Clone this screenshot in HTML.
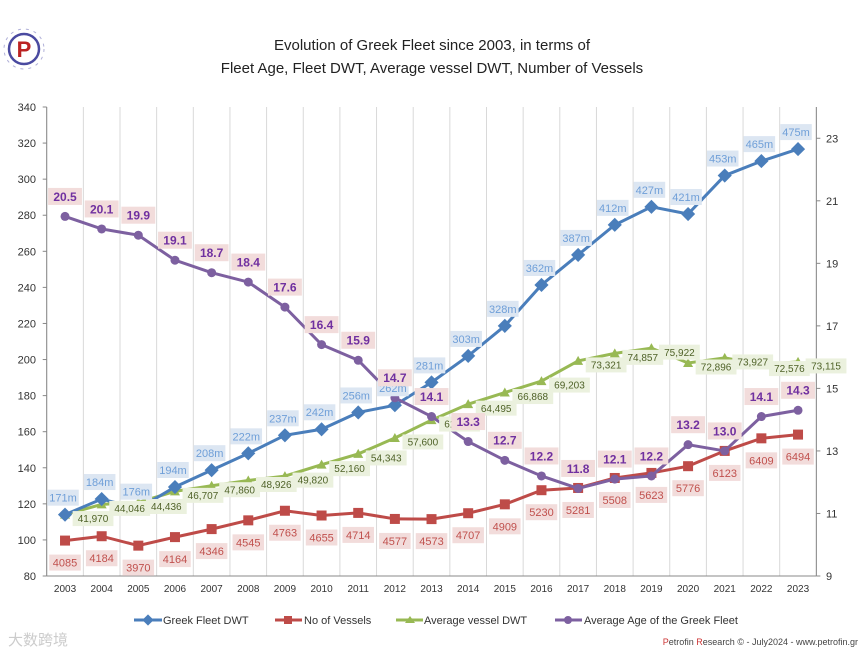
<!DOCTYPE html>
<html><head><meta charset="utf-8"><style>
body{margin:0;background:#fff;font-family:"Liberation Sans",sans-serif}
svg text{font-family:"Liberation Sans","Noto Sans CJK SC",sans-serif}
</style></head><body>
<svg id="c" width="865" height="656" xmlns="http://www.w3.org/2000/svg">
<g>
<circle cx="24" cy="49" r="15" fill="none" stroke="#4a4aa0" stroke-width="2.5"/>
<circle cx="24" cy="49" r="20" fill="none" stroke="#b0b0d8" stroke-width="1" stroke-dasharray="3 5"/>
<text x="24" y="57" font-size="22" font-weight="bold" fill="#b22" text-anchor="middle" font-family="Liberation Serif">P</text>
</g>
<text x="432" y="50" font-size="15" text-anchor="middle" fill="#222">Evolution of Greek Fleet since 2003, in terms of</text>
<text x="432" y="73" font-size="15" text-anchor="middle" fill="#222">Fleet Age, Fleet DWT, Average vessel DWT, Number of Vessels</text>
<g id="grid"></g><g id="axes"></g><g id="series"></g><g id="labels"></g>
<g font-size="11" fill="#333">
<g><line x1="134" y1="620" x2="162" y2="620" stroke="#4a7ebb" stroke-width="3"/><rect x="144" y="616" width="8" height="8" fill="#4a7ebb" transform="rotate(45 148 620)"/><text x="163" y="624">Greek Fleet DWT</text></g>
<g><line x1="275" y1="620" x2="302" y2="620" stroke="#be4b48" stroke-width="3"/><rect x="284" y="616" width="8" height="8" fill="#be4b48"/><text x="304" y="624">No of Vessels</text></g>
<g><line x1="396" y1="620" x2="423" y2="620" stroke="#98b954" stroke-width="3"/><path d="M405,623 L410,616 L415,623Z" fill="#98b954"/><text x="424" y="624">Average vessel DWT</text></g>
<g><line x1="555" y1="620" x2="582" y2="620" stroke="#7d60a0" stroke-width="3"/><circle cx="568" cy="620" r="4" fill="#7d60a0"/><text x="584" y="624">Average Age of the Greek Fleet</text></g>
</g>
<text x="8" y="645" font-size="15" fill="#ccc">大数跨境</text>
<text x="858" y="645" font-size="9" text-anchor="end" fill="#444"><tspan fill="#c33">P</tspan>etrofin <tspan fill="#c33">R</tspan>esearch © - July2024 - www.petrofin.gr</text>
</svg>
<script>
const years=[2003,2004,2005,2006,2007,2008,2009,2010,2011,2012,2013,2014,2015,2016,2017,2018,2019,2020,2021,2022,2023];
const fleetDwt=[171,184,176,194,208,222,237,242,256,262,281,303,328,362,387,412,427,421,453,465,475];
const vessels=[4085,4184,3970,4164,4346,4545,4763,4655,4714,4577,4573,4707,4909,5230,5281,5508,5623,5776,6123,6409,6494];
const avgDwt=[41970,44046,44436,46707,47860,48926,49820,52160,54343,57600,61250,64495,66868,69203,73321,74857,75922,72896,73927,72576,73115];
const avgAge=[20.5,20.1,19.9,19.1,18.7,18.4,17.6,16.4,15.9,14.7,14.1,13.3,12.7,12.2,11.8,12.1,12.2,13.2,13.0,14.1,14.3];
const leftTicks=[80,100,120,140,160,180,200,220,240,260,280,300,320,340];
const rightTicks=[9,11,13,15,17,19,21,23];
const NS='http://www.w3.org/2000/svg';
const X0=46.7,STEP=36.65,YB=576,YT=107;
const xs=i=>X0+STEP*(i+0.5);
const yL=v=>YB-(v-80)/(340-80)*(YB-YT);
const yR=v=>YB-(v-9)/(24-9)*(YB-YT);
function mk(tag,at,parent){const e=document.createElementNS(NS,tag);for(const k in at)e.setAttribute(k,at[k]);document.getElementById(parent).appendChild(e);return e;}
for(let i=0;i<=years.length;i++){const l=mk('line',{x1:X0+STEP*i,x2:X0+STEP*i,y1:YT,y2:YB,stroke:'#d9d9d9'},'grid');

}
mk('line',{x1:X0,x2:X0,y1:YT,y2:YB,stroke:'#888'},'axes');
mk('line',{x1:X0+STEP*21,x2:X0+STEP*21,y1:YT,y2:YB,stroke:'#888'},'axes');
mk('line',{x1:X0,x2:X0+STEP*21,y1:YB,y2:YB,stroke:'#888'},'axes');
leftTicks.forEach(v=>{const t=mk('text',{x:36,y:yL(v)+4,'font-size':11,'text-anchor':'end',fill:'#333'},'axes');t.textContent=v;


mk('line',{x1:X0-4,x2:X0,y1:yL(v),y2:yL(v),stroke:'#888'},'axes');});
rightTicks.forEach(v=>{const t=mk('text',{x:826,y:yR(v)+4,'font-size':11,fill:'#333'},'axes');t.textContent=v;


mk('line',{x1:X0+STEP*21,x2:X0+STEP*21+4,y1:yR(v),y2:yR(v),stroke:'#888'},'axes');});
years.forEach((y,i)=>{const t=mk('text',{x:xs(i),y:592,'font-size':10,'text-anchor':'middle',fill:'#333'},'axes');t.textContent=y;

});
function lbl(x,y,txt,bg,fg,bold,size,name){
 const w=txt.length*(size*0.58)+6,h=size+5;
 const r=mk('rect',{x:x-w/2,y:y-h/2,width:w,height:h,fill:bg},'labels');
 
 
 const t=mk('text',{x:x,y:y+size*0.36,'font-size':size,'text-anchor':'middle',fill:fg,'font-weight':bold?'bold':'normal'},'labels');
 t.textContent=txt;
 
 }
function series(vals,yf,color,marker,name){
 const pts=vals.map((v,i)=>[xs(i),yf(v)]);
 const p=mk('polyline',{points:pts.map(p=>p.join(',')).join(' '),fill:'none',stroke:color,'stroke-width':3},'series');
 
 
 pts.forEach(([x,y])=>{let m;
  if(marker==='d')m=mk('rect',{x:x-5,y:y-5,width:10,height:10,fill:color,transform:`rotate(45 ${x} ${y})`},'series');
  else if(marker==='s')m=mk('rect',{x:x-5,y:y-5,width:10,height:10,fill:color},'series');
  else if(marker==='t')m=mk('path',{d:`M${x-5},${y+4} L${x},${y-5} L${x+5},${y+4}Z`,fill:color},'series');
  else m=mk('circle',{cx:x,cy:y,r:4.5,fill:color},'series');
  
  });
 return pts;}
const pv=series(vessels,v=>yL(v/41),'#be4b48','s','vessels');
const pa=series(avgDwt,v=>yL(v/368),'#98b954','t','avg-dwt');
const pd=series(fleetDwt,v=>yL(v/1.5),'#4a7ebb','d','fleet-dwt');
const pg=series(avgAge,yR,'#7d60a0','c','avg-age');
pv.forEach(([x,y],i)=>lbl(x,y+22,String(vessels[i]),'#f2dcdb','#c0504d',false,11,'vessels-label'));
pa.forEach(([x,y],i)=>lbl(x+28,y+4,avgDwt[i].toLocaleString('en-US'),'#ebf1de','#4f6228',false,10,'avg-dwt-label'));
pd.forEach(([x,y],i)=>lbl(x-2,y-17,fleetDwt[i]+'m','#dce6f2','#6f9fd8',false,11,'fleet-dwt-label'));
pg.forEach(([x,y],i)=>lbl(x,y-20,avgAge[i].toFixed(1),'#f2dcdb','#7030a0',true,12,'avg-age-label'));
</script>
</body></html>
